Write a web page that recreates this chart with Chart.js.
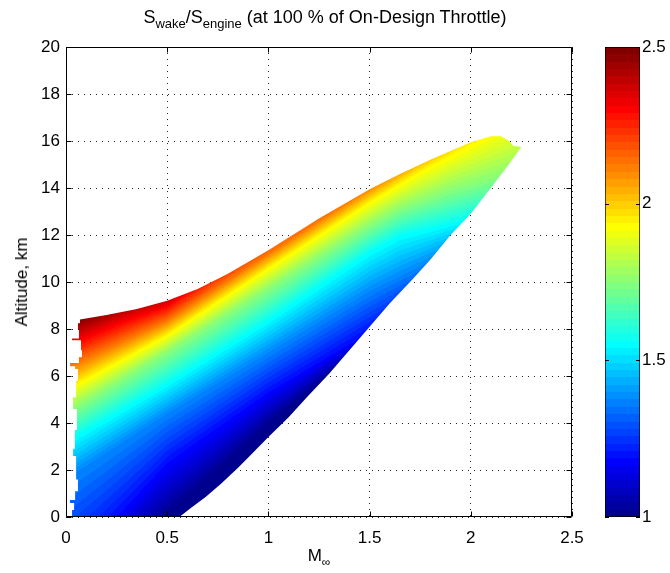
<!DOCTYPE html>
<html>
<head>
<meta charset="utf-8">
<script src="https://cdn.jsdelivr.net/npm/chart.js@4.4.0/dist/chart.umd.min.js"></script>
<style>
  html, body { margin: 0; padding: 0; background: #fff; }
  #wrap { position: relative; width: 670px; height: 573px; font-family: "Liberation Sans", Arial, sans-serif; color: #000; }
  #main { position: absolute; left: 0; top: 0; }
  #bar { position: absolute; left: 600px; top: 0; }
  .lbl { position: absolute; white-space: nowrap; font-size: 17px; line-height: 18px; }
  .lbl sub { font-size: 12px; vertical-align: -5px; line-height: 0; }
  #title { left: 6px; width: 638px; top: 8px; text-align: center; font-size: 18px; }
  #title sub { font-size: 13px; }
  #xlabel { left: 66px; width: 506px; top: 547px; text-align: center; }
  #ylabel { left: 22px; top: 282px; transform: translate(-50%, -50%) rotate(-90deg); }
</style>
</head>
<body>
<div id="wrap">
  <canvas id="main" width="670" height="573"></canvas>
  <canvas id="bar" width="70" height="573"></canvas>
  <div class="lbl" id="title">S<sub>wake</sub>/S<sub>engine</sub> (at 100 % of On-Design Throttle)</div>
  <div class="lbl" id="xlabel">M<sub>∞</sub></div>
  <div class="lbl" id="ylabel">Altitude, km</div>
</div>
<script>
// edge of the computed region (Mach, km): bottom, lower edge, tip, upper edge, then the ragged left side
const edgeMach = [0.03, 0.56, 0.62, 0.69, 0.77, 0.85, 0.92, 1.0, 1.1, 1.19, 1.3, 1.4, 1.5, 1.6, 1.71, 1.8, 1.9, 2.0, 2.09, 2.18, 2.25,
  2.21, 2.19, 2.15, 2.1, 2.0, 1.8, 1.65, 1.5, 1.25, 1.0, 0.8, 0.65, 0.5, 0.35, 0.2, 0.069,
  0.069, 0.059, 0.059, 0.064, 0.064, 0.03, 0.03, 0.074, 0.074, 0.079, 0.079, 0.064, 0.064, 0.02, 0.02, 0.045, 0.045, 0.059,
  0.059, 0.05, 0.05, 0.035, 0.035, 0.054, 0.054, 0.044, 0.044, 0.035, 0.035, 0.05, 0.05, 0.059, 0.059, 0.045,
  0.045, 0.02, 0.02, 0.04, 0.04, 0.03];
const edgeAlt = [0, 0, 0.4, 0.85, 1.45, 2.1, 2.7, 3.4, 4.25, 5.1, 6.1, 7.1, 8.1, 9.1, 10.1, 10.95, 12.0, 12.9, 13.9, 14.9, 15.75,
  15.8, 16.0, 16.2, 16.2, 15.95, 15.2, 14.6, 13.95, 12.7, 11.35, 10.35, 9.7, 9.2, 8.85, 8.6, 8.4,
  8.25, 8.25, 8.0, 8.0, 7.6, 7.6, 7.52, 7.52, 7.1, 7.1, 6.8, 6.8, 6.55, 6.55, 6.42, 6.42, 6.3, 6.3,
  5.8, 5.8, 5.1, 5.1, 4.6, 4.6, 3.7, 3.7, 2.9, 2.9, 2.6, 2.6, 1.6, 1.6, 1.1, 1.1,
  0.72, 0.72, 0.6, 0.6, 0.3, 0.3];

// iso-lines of S_wake/S_engine
const isoLevels = [1.0, 1.1875, 1.375, 1.5625, 1.75, 1.9375, 2.125, 2.3125];
const isoMach = [
  [0.5, 0.75, 1.0, 1.2],
  [0.25, 0.5, 1.0, 1.45],
  [0.04, 0.5, 1.0, 1.5, 1.78],
  [0.04, 0.5, 1.0, 1.5, 1.65, 1.95],
  [0.04, 0.5, 1.0, 1.5, 1.65, 1.9, 2.15],
  [0.04, 0.5, 1.0, 1.5, 1.75, 2.05],
  [0.04, 0.5, 1.0, 1.3],
  [0.04, 0.3, 0.5, 0.6]
];
const isoAlt = [
  [0, 1.9, 3.9, 5.3],
  [0, 2.3, 5.3, 7.6],
  [1.85, 4.4, 7.0, 9.6, 10.8],
  [3.4, 5.7, 8.4, 11.3, 12.0, 12.6],
  [4.6, 7.0, 9.7, 12.4, 13.1, 13.9, 14.5],
  [5.6, 7.75, 10.6, 13.4, 14.7, 16.1],
  [6.5, 8.35, 11.2, 12.9],
  [7.45, 8.4, 9.0, 9.6]
];

const xTicks = [0, 0.5, 1, 1.5, 2, 2.5];
const yTicks = [0, 2, 4, 6, 8, 10, 12, 14, 16, 18, 20];
const barTicks = [1, 1.5, 2, 2.5];

const cMin = 1, cMax = 2.5;
const font = { family: '"Liberation Sans", Arial, sans-serif', size: 17 };
const plain = v => String(v);

// matlab jet(64)
function jetIndex(c) {
  const f = v => Math.round(255 * Math.max(0, Math.min(1, v)));
  return [f(Math.min((c - 23) / 16, (71 - c) / 16)),
          f(Math.min((c - 7) / 16, (55 - c) / 16)),
          f(Math.min((c + 9) / 16, (39 - c) / 16))];
}
function jet(v) {
  const c = Math.max(0, Math.min(63, Math.floor((v - cMin) / (cMax - cMin) * 64)));
  return jetIndex(c);
}

// pixel y of an iso-line at a pixel column, carried straight on past its ends
function columnY(pts, px) {
  let i = 0;
  while (i < pts.length - 2 && px > pts[i + 1].x) i++;
  const a = pts[i], b = pts[i + 1];
  return a.y + (b.y - a.y) * (px - a.x) / (b.x - a.x);
}

const fieldPlugin = {
  id: 'field',
  beforeDatasetsDraw(chart) {
    const { ctx, chartArea: area } = chart;
    const region = chart.getDatasetMeta(0).data;
    const isos = isoLevels.map((_, k) => chart.getDatasetMeta(k + 1).data);
    const n = isoLevels.length;
    const w = Math.ceil(area.right - area.left), h = Math.ceil(area.bottom - area.top);
    const off = document.createElement('canvas');
    off.width = w; off.height = h;
    const octx = off.getContext('2d');
    const img = octx.createImageData(w, h);
    for (let i = 0; i < w; i++) {
      const px = area.left + i + 0.5;
      const ys = isos.map(p => columnY(p, px));
      for (let k = 1; k < n; k++) ys[k] = Math.min(ys[k], ys[k - 1] - 0.5);
      for (let j = 0; j < h; j++) {
        const py = area.top + j + 0.5;
        let v;
        if (py >= ys[0]) {
          v = isoLevels[0] - (py - ys[0]) / (ys[0] - ys[1]) * (isoLevels[1] - isoLevels[0]);
        } else if (py <= ys[n - 1]) {
          v = isoLevels[n - 1] + (ys[n - 1] - py) / (ys[n - 2] - ys[n - 1]) * (isoLevels[n - 1] - isoLevels[n - 2]);
        } else {
          let k = 0;
          while (py < ys[k + 1]) k++;
          v = isoLevels[k] + (ys[k] - py) / (ys[k] - ys[k + 1]) * (isoLevels[k + 1] - isoLevels[k]);
        }
        const col = jet(v);
        const o = (j * w + i) * 4;
        img.data[o] = col[0]; img.data[o + 1] = col[1]; img.data[o + 2] = col[2]; img.data[o + 3] = 255;
      }
    }
    octx.putImageData(img, 0, 0);
    ctx.save();
    ctx.beginPath();
    region.forEach((p, i) => (i ? ctx.lineTo(p.x, p.y) : ctx.moveTo(p.x, p.y)));
    ctx.closePath();
    ctx.clip();
    ctx.drawImage(off, area.left, area.top);
    ctx.restore();
  }
};

// box round the axes with inward tick marks, as matlab draws it
const boxPlugin = {
  id: 'box',
  afterDraw(chart) {
    const { ctx, chartArea: a, scales: { x, y } } = chart;
    const L = Math.round(a.left) + 0.5, R = Math.round(a.right) - 0.5;
    const T = Math.round(a.top) + 0.5, B = Math.round(a.bottom) - 0.5;
    ctx.save();
    ctx.strokeStyle = '#000';
    ctx.lineWidth = 1;
    ctx.beginPath();
    ctx.rect(L, T, R - L, B - T);
    xTicks.forEach(v => {
      const px = Math.round(x.getPixelForValue(v)) + 0.5;
      ctx.moveTo(px, B); ctx.lineTo(px, B - 5);
      ctx.moveTo(px, T); ctx.lineTo(px, T + 5);
    });
    yTicks.forEach(v => {
      const py = Math.round(y.getPixelForValue(v)) + 0.5;
      ctx.moveTo(L, py); ctx.lineTo(L + 5, py);
      ctx.moveTo(R, py); ctx.lineTo(R - 5, py);
    });
    ctx.stroke();
    ctx.restore();
  }
};

const pts = (ms, hs) => ms.map((m, i) => ({ x: m, y: hs[i] }));
const datasets = [{ label: 'region', data: pts(edgeMach, edgeAlt) }]
  .concat(isoLevels.map((lv, k) => ({ label: 'S = ' + lv, data: pts(isoMach[k], isoAlt[k]) })));

const dotted = 'rgba(0,0,0,0.85)';

new Chart(document.getElementById('main'), {
  type: 'scatter',
  data: { datasets },
  options: {
    responsive: false,
    animation: false,
    events: [],
    layout: { padding: { top: 47, right: 98, left: 0, bottom: 0 } },
    elements: { point: { radius: 0, hoverRadius: 0 } },
    plugins: { legend: { display: false }, tooltip: { enabled: false } },
    scales: {
      x: {
        type: 'linear', min: 0, max: 2.5,
        afterFit: s => { s.height = 56; },
        afterBuildTicks: s => { s.ticks = xTicks.map(v => ({ value: v })); },
        ticks: { font, color: '#000', padding: 11, maxRotation: 0, callback: plain },
        grid: { color: dotted, lineWidth: 1, drawTicks: false },
        border: { display: false, dash: [1, 5] }
      },
      y: {
        type: 'linear', min: 0, max: 20,
        afterFit: s => { s.width = 66; },
        afterBuildTicks: s => { s.ticks = yTicks.map(v => ({ value: v })); },
        ticks: { font, color: '#000', padding: 6, callback: plain },
        grid: { color: dotted, lineWidth: 1, drawTicks: false },
        border: { display: false, dash: [1, 5] }
      }
    }
  },
  plugins: [fieldPlugin, boxPlugin]
});

// colour bar
function barGradient(c) {
  const area = c.chart.chartArea;
  if (!area) return null;
  const g = c.chart.ctx.createLinearGradient(0, area.bottom, 0, area.top);
  for (let i = 0; i < 64; i++) {
    const col = 'rgb(' + jetIndex(i).join(',') + ')';
    g.addColorStop(i / 64, col);
    g.addColorStop((i + 1) / 64, col);
  }
  return g;
}

const barTickPlugin = {
  id: 'barTicks',
  afterDraw(chart) {
    const { ctx, chartArea: a, scales: { y } } = chart;
    ctx.save();
    ctx.strokeStyle = '#000';
    ctx.lineWidth = 1;
    ctx.beginPath();
    barTicks.forEach(v => {
      const py = Math.round(y.getPixelForValue(v)) + 0.5;
      ctx.moveTo(a.left, py); ctx.lineTo(a.left + 4, py);
      ctx.moveTo(a.right, py); ctx.lineTo(a.right - 4, py);
    });
    ctx.stroke();
    ctx.restore();
  }
};

new Chart(document.getElementById('bar'), {
  type: 'bar',
  data: {
    labels: [''],
    datasets: [{
      data: [[barTicks[0], barTicks[barTicks.length - 1]]],
      backgroundColor: barGradient,
      borderColor: '#000',
      borderWidth: 1,
      borderSkipped: false,
      barPercentage: 1,
      categoryPercentage: 1
    }]
  },
  options: {
    responsive: false,
    animation: false,
    events: [],
    layout: { padding: { left: 5, top: 47, bottom: 56, right: 0 } },
    plugins: { legend: { display: false }, tooltip: { enabled: false } },
    scales: {
      x: { display: false },
      y: {
        position: 'right', min: cMin, max: cMax,
        afterFit: s => { s.width = 30; },
        afterBuildTicks: s => { s.ticks = barTicks.map(v => ({ value: v })); },
        ticks: { font, color: '#000', padding: 2, callback: plain },
        grid: { display: false, drawTicks: false },
        border: { display: false }
      }
    }
  },
  plugins: [barTickPlugin]
});
</script>
</body>
</html>
